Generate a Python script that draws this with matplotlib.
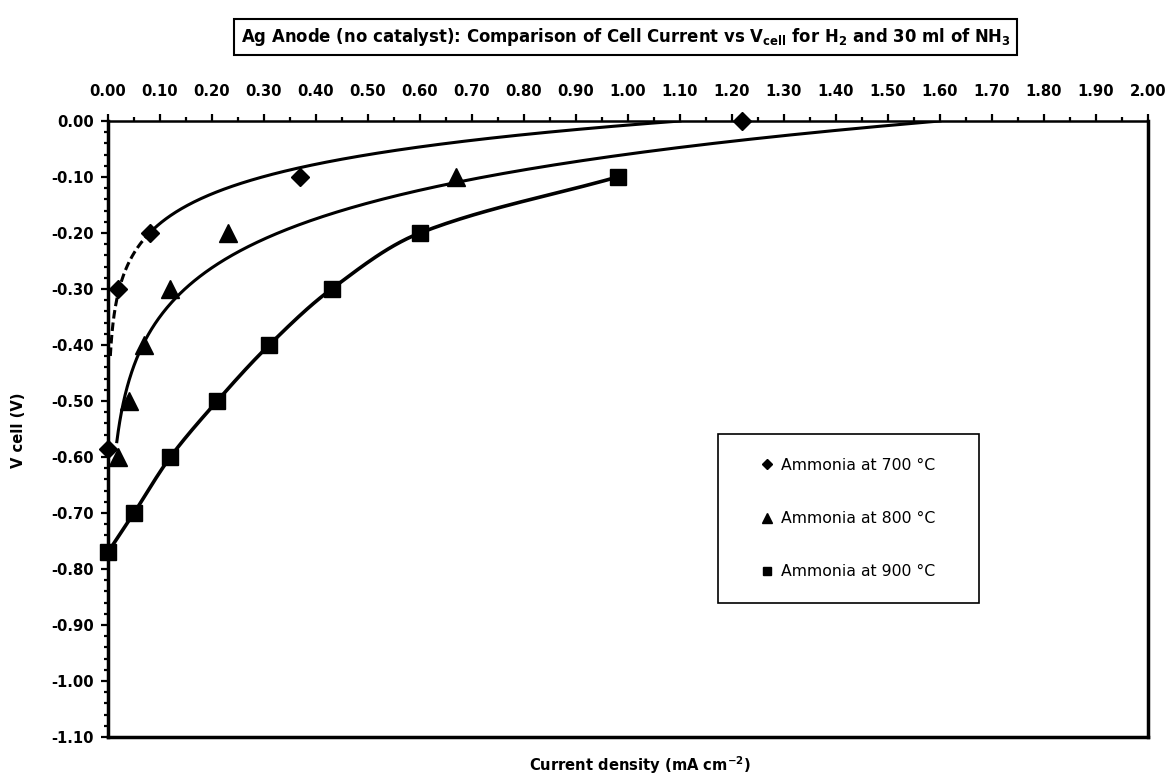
import numpy as np
import matplotlib
matplotlib.use("Agg")
import matplotlib.pyplot as plt
from matplotlib.patches import Rectangle
from matplotlib.ticker import MultipleLocator, FormatStrFormatter

# Measured points (current density, V cell)
I_700 = [0.00, 0.02, 0.08, 0.37, 1.22]
V_700 = [-0.585, -0.30, -0.20, -0.10, 0.00]
I_800 = [0.02, 0.04, 0.07, 0.12, 0.23, 0.67]
V_800 = [-0.60, -0.50, -0.40, -0.30, -0.20, -0.10]
I_900 = [0.00, 0.05, 0.12, 0.21, 0.31, 0.43, 0.60, 0.98]
V_900 = [-0.77, -0.70, -0.60, -0.50, -0.40, -0.30, -0.20, -0.10]

# Log trendlines, V = slope * ln(I) + intercept
TREND_700 = {"slope": 0.0763, "intercept": -0.0073, "start": 0.0045, "solid_from": 0.08, "end": 1.10}
TREND_800 = {"slope": 0.126, "intercept": -0.0592, "start": 0.017, "end": 1.60}

LABELS = ["Ammonia at 700 °C", "Ammonia at 800 °C", "Ammonia at 900 °C"]

plt.rcParams["font.family"] = ["DejaVu Sans"]
plt.rcParams["axes.unicode_minus"] = False
plt.rcParams["mathtext.fontset"] = "custom"
plt.rcParams["mathtext.rm"] = "DejaVu Sans:bold"
plt.rcParams["mathtext.bf"] = "DejaVu Sans:bold"


def log_trend(tr, lo, hi, n=300):
    x = np.geomspace(lo, hi, n)
    return x, tr["slope"] * np.log(x) + tr["intercept"]


def smooth(x, y, sx=520.0, sy=560.0, n=30):
    # smoothed line through the points, hermite with chord-length tangents
    p = np.column_stack([np.asarray(x) * sx, np.asarray(y) * sy])
    d = np.hypot(*np.diff(p, axis=0).T)
    k = len(p)
    tang = np.zeros_like(p)
    for i in range(k):
        if i == 0:
            tang[i] = p[1] - p[0]
        elif i == k - 1:
            tang[i] = p[-1] - p[-2]
        else:
            tang[i] = (p[i + 1] - p[i - 1]) / (d[i - 1] + d[i])
    t = np.linspace(0, 1, n)[:, None]
    h00 = 2 * t ** 3 - 3 * t ** 2 + 1
    h10 = t ** 3 - 2 * t ** 2 + t
    h01 = -2 * t ** 3 + 3 * t ** 2
    h11 = t ** 3 - t ** 2
    segs = []
    for i in range(k - 1):
        m0 = tang[i] if i == 0 else tang[i] * d[i]
        m1 = tang[i + 1] if i + 1 == k - 1 else tang[i + 1] * d[i]
        segs.append(h00 * p[i] + h10 * m0 + h01 * p[i + 1] + h11 * m1)
    s = np.vstack(segs)
    return s[:, 0] / sx, s[:, 1] / sy


fig = plt.figure(figsize=(11.7, 7.79), dpi=100)
ax = fig.add_axes([0.0923, 0.0539, 0.8889, 0.7908])

lw = 2.2
# 700 C trendline: dashed at low current, solid above
x, y = log_trend(TREND_700, TREND_700["start"], TREND_700["solid_from"])
ax.plot(x, y, color="black", lw=lw, dashes=(2.8, 1.3), zorder=2)
x, y = log_trend(TREND_700, TREND_700["solid_from"], TREND_700["end"])
ax.plot(x, y, color="black", lw=lw, zorder=2)
# 800 C trendline
x, y = log_trend(TREND_800, TREND_800["start"], TREND_800["end"])
ax.plot(x, y, color="black", lw=lw, zorder=2)
# 900 C smoothed line
x, y = smooth(I_900, V_900)
ax.plot(x, y, color="black", lw=lw + 0.4, zorder=2)

h1, = ax.plot(I_700, V_700, "D", ms=9.5, color="black", label=LABELS[0], zorder=3, clip_on=False)
h2, = ax.plot(I_800, V_800, "^", ms=13.5, color="black", label=LABELS[1], zorder=3, clip_on=False)
h3, = ax.plot(I_900, V_900, "s", ms=11.5, color="black", label=LABELS[2], zorder=3, clip_on=False)

ax.set_xlim(0, 2.0)
ax.set_ylim(-1.10, 0.0)
ax.xaxis.tick_top()
ax.xaxis.set_major_locator(MultipleLocator(0.1))
ax.xaxis.set_minor_locator(MultipleLocator(0.05))
ax.yaxis.set_major_locator(MultipleLocator(0.1))
ax.yaxis.set_minor_locator(MultipleLocator(0.02))
ax.xaxis.set_major_formatter(FormatStrFormatter("%.2f"))
ax.yaxis.set_major_formatter(FormatStrFormatter("%.2f"))
ax.tick_params(axis="x", which="major", direction="out", length=5, width=1.6,
               pad=11, labelsize=10.6)
ax.tick_params(axis="x", which="minor", direction="out", length=3, width=1.6)
ax.tick_params(axis="y", which="major", direction="out", length=5, width=1.6,
               pad=5, labelsize=10.6)
ax.tick_params(axis="y", which="minor", direction="out", length=3, width=1.6)
for lab in ax.get_xticklabels() + ax.get_yticklabels():
    lab.set_fontweight("bold")
for s in ax.spines.values():
    s.set_linewidth(2.5)
ax.spines["top"].set_linewidth(1.8)

# legend with its own frame
ax.add_patch(Rectangle((0.5865, 0.2175), 0.251, 0.2744, transform=ax.transAxes,
                       fill=False, ec="black", lw=1.2, zorder=4))
ax.legend(handles=[h1, h2, h3], loc="center", bbox_to_anchor=(0.712, 0.3547),
          frameon=False, fontsize=11.3, labelspacing=2.45, handlelength=0.8,
          handletextpad=0.5, markerscale=0.55, numpoints=1)

fig.text(0.535, 0.9525,
         r"Ag Anode (no catalyst): Comparison of Cell Current vs V$_{\mathbf{cell}}$ for H$_{\mathbf{2}}$ and 30 ml of NH$_{\mathbf{3}}$",
         ha="center", va="center", fontsize=11.9, fontweight="bold",
         bbox=dict(boxstyle="square,pad=0.4", fc="white", ec="black", lw=1.5))
fig.text(0.547, 0.018, r"Current density (mA cm$^{\mathbf{-2}}$)", ha="center", va="center",
         fontsize=10.6, fontweight="bold")
fig.text(0.016, 0.448, "V cell (V)", rotation=90, ha="center", va="center",
         fontsize=10.6, fontweight="bold")

fig.savefig("out.png", dpi=100)
